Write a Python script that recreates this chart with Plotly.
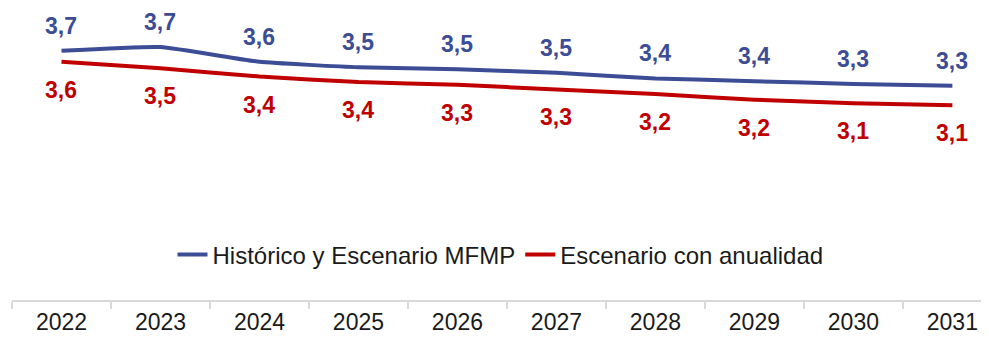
import plotly.graph_objects as go

years = ["2022", "2023", "2024", "2025", "2026", "2027", "2028", "2029", "2030", "2031"]
historico = [3.70, 3.74, 3.58, 3.52, 3.50, 3.46, 3.40, 3.37, 3.34, 3.32]
anualidad = [3.58, 3.51, 3.42, 3.36, 3.33, 3.28, 3.23, 3.17, 3.13, 3.11]

name_hist = "Histórico y Escenario MFMP"
name_anual = "Escenario con anualidad"

blue = "#3C4C95"
red = "#C00000"
font_family = "Arial, Liberation Sans, sans-serif"

fig = go.Figure()
fig.add_trace(go.Scatter(x=years, y=historico, name=name_hist, mode="lines",
                         line=dict(color=blue, width=4, shape="spline", smoothing=0.4)))
fig.add_trace(go.Scatter(x=years, y=anualidad, name=name_anual, mode="lines",
                         line=dict(color=red, width=4, shape="spline", smoothing=0.4)))

annotations = []
for i, v in enumerate(historico):
    annotations.append(dict(x=i, y=v, xref="x", yref="y", text="<b>" + f"{v:.1f}".replace(".", ",") + "</b>",
                            showarrow=False, yanchor="middle", yshift=25,
                            font=dict(family=font_family, size=23, color=blue)))
for i, v in enumerate(anualidad):
    annotations.append(dict(x=i, y=v, xref="x", yref="y", text="<b>" + f"{v:.1f}".replace(".", ",") + "</b>",
                            showarrow=False, yanchor="middle", yshift=-28,
                            font=dict(family=font_family, size=23, color=red)))

# the page body has an 8px default margin, so the figure is drawn 8px in
fig.update_layout(
    width=981, height=331,
    margin=dict(l=4, r=0, t=15, b=39),
    paper_bgcolor="white", plot_bgcolor="white",
    font=dict(family=font_family, size=24, color="#1a1a1a"),
    showlegend=True,
    legend=dict(orientation="h", x=0.5, xanchor="center", y=0.1625, yanchor="middle",
                font=dict(size=24, color="#1a1a1a"), itemwidth=30, bgcolor="rgba(0,0,0,0)"),
    annotations=annotations,
    xaxis=dict(type="category", range=[-0.5, 9.37], showgrid=False, zeroline=False,
               automargin=False,
               showline=True, linecolor="#d9d9d9", linewidth=1.5,
               ticks="outside", tickson="boundaries", ticklen=7, tickcolor="#d9d9d9", tickwidth=1.5,
               ticklabelstandoff=1,
               tickfont=dict(size=23, color="#1a1a1a")),
    yaxis=dict(range=[1, 4], visible=False, showgrid=False, zeroline=False, automargin=False),
)

fig.write_html("out.html")
